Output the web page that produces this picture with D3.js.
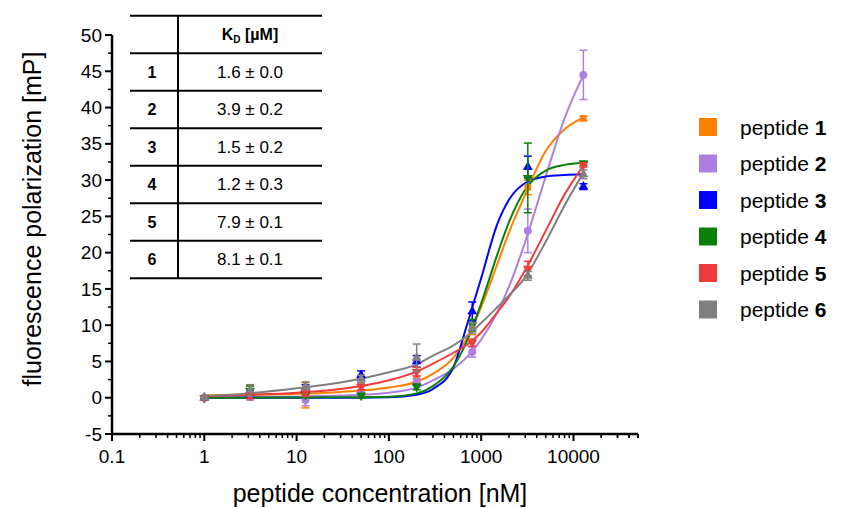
<!DOCTYPE html>
<html>
<head>
<meta charset="utf-8">
<script src="https://cdn.jsdelivr.net/npm/d3@7"></script>
<style>
  body { margin: 0; background: #fff; }
  svg { font-family: "Liberation Sans", Arial, sans-serif; }
</style>
</head>
<body>
<div id="chart"></div>
<script>
// concentrations of the measured points [nM]
const conc = [1, 3.125, 12.5, 50, 200, 800, 3200, 12800]

const names = ["1", "2", "3", "4", "5", "6"]
const colors = ["#ff7f00", "#ad7fe0", "#0000ff", "#0a800a", "#ef3b3b", "#808080"]
const shapes = ["square", "circle", "triangle", "triangleDown", "triangleDown", "triangle"]

// mean values [mP] per peptide
const means1 = [0.0, 0.7, 0.4, 0.7, 2.5, 9.5, 29.0, 38.5]
const means2 = [0.0, 0.1, -0.3, 0.8, 2.2, 6.3, 23.0, 44.5]
const means3 = [0.0, 0.5, 1.3, 3.1, 5.0, 11.9, 31.8, 29.1]
const means4 = [0.0, 1.0, 0.4, 0.3, 1.5, 10.0, 30.3, 32.3]
const means5 = [0.0, 0.3, 0.7, 1.5, 3.6, 7.6, 17.8, 32.1]
const means6 = [0.0, 1.0, 1.6, 2.6, 5.5, 9.6, 16.8, 30.8]

// standard deviations [mP]
const err1 = [0.2, 1.0, 1.8, 0.3, 0.5, 0.8, 1.0, 0.3]
const err2 = [0.2, 0.4, 0.8, 0.3, 0.4, 0.7, 3.0, 3.4]
const err3 = [0.2, 0.5, 0.5, 0.6, 0.8, 1.3, 1.5, 0.4]
const err4 = [0.2, 0.6, 0.4, 0.3, 0.4, 0.8, 4.8, 0.3]
const err5 = [0.2, 0.4, 0.5, 0.4, 0.6, 0.5, 1.0, 0.3]
const err6 = [0.2, 0.8, 0.5, 0.5, 1.9, 0.7, 0.6, 0.6]

// fitted curves
const fitConc = [1, 3, 10, 30, 100, 200, 300, 500, 700, 1000, 1500, 2000, 3000, 5000, 8000, 12800]
const fit1 = [0.35, 0.4, 0.5, 0.8, 1.4, 2.2, 3.3, 5.5, 8.2, 12.5, 18.5, 22.8, 28.0, 34.0, 37.0, 38.6]
const fit2 = [0.1, 0.1, 0.15, 0.3, 0.7, 1.4, 2.4, 4.0, 5.6, 8.0, 11.8, 15.3, 21.5, 30.5, 38.5, 44.5]
const fit3 = [0, 0, 0, 0, 0.05, 0.4, 1.2, 4.2, 10.0, 16.5, 24.0, 27.3, 29.6, 30.5, 30.7, 30.8]
const fit4 = [0, 0, 0.02, 0.05, 0.15, 0.6, 1.6, 4.3, 7.8, 13.0, 19.8, 24.2, 28.7, 31.3, 32.1, 32.4]
const fit5 = [0.2, 0.4, 0.7, 1.2, 2.4, 3.6, 4.7, 6.2, 7.3, 9.0, 11.8, 13.9, 17.6, 23.0, 28.0, 32.0]
const fit6 = [0.2, 0.6, 1.3, 2.1, 3.5, 4.6, 5.8, 7.2, 8.5, 10.3, 12.5, 14.1, 16.6, 21.5, 26.5, 31.0]

// K_D table
const kdRows = ["1", "2", "3", "4", "5", "6"]
const kdValues = ["1.6 ± 0.0", "3.9 ± 0.2", "1.5 ± 0.2", "1.2 ± 0.3", "7.9 ± 0.1", "8.1 ± 0.1"]

const xTickLabels = ["0.1", "1", "10", "100", "1000", "10000"]
const yTicks = [-5, 0, 5, 10, 15, 20, 25, 30, 35, 40, 45, 50]

const allMeans = [means1, means2, means3, means4, means5, means6]
const allErr = [err1, err2, err3, err4, err5, err6]
const allFits = [fit1, fit2, fit3, fit4, fit5, fit6]

const width = 841, height = 508
const svg = d3.select("#chart").append("svg")
	.attr("width", width)
	.attr("height", height)

const x = d3.scaleLog().domain([0.1, 50000]).range([112, 638])
const y = d3.scaleLinear().domain([-5, 50]).range([434, 35])

// curves first, points over them
const line = d3.line()
	.x(function(d) { return x(d[0]) })
	.y(function(d) { return y(d[1]) })
	.curve(d3.curveMonotoneX)

for (let s = 0; s < allFits.length; s++) {
	svg.append("path")
		.attr("d", line(fitConc.map(function(c, i) { return [c, allFits[s][i]] })))
		.attr("fill", "none")
		.attr("stroke", colors[s])
		.attr("stroke-width", 2)
}

function symbolFor(shape) {
	switch (shape) {
		case "square": return d3.symbol().type(d3.symbolSquare).size(42)
		case "circle": return d3.symbol().type(d3.symbolCircle).size(50)
		default: return d3.symbol().type(d3.symbolTriangle).size(42)
	}
}

for (let s = 0; s < allMeans.length; s++) {
	let g = svg.append("g")
	for (let i = 0; i < conc.length; i++) {
		let cx = x(conc[i])
		let top = y(allMeans[s][i] + allErr[s][i])
		let bot = y(allMeans[s][i] - allErr[s][i])
		g.append("line")
			.attr("x1", cx).attr("x2", cx)
			.attr("y1", top).attr("y2", bot)
			.attr("stroke", colors[s]).attr("stroke-width", 1.5)
		g.append("line")
			.attr("x1", cx - 4).attr("x2", cx + 4)
			.attr("y1", top).attr("y2", top)
			.attr("stroke", colors[s]).attr("stroke-width", 1.5)
		g.append("line")
			.attr("x1", cx - 4).attr("x2", cx + 4)
			.attr("y1", bot).attr("y2", bot)
			.attr("stroke", colors[s]).attr("stroke-width", 1.5)
		let rot = shapes[s] == "triangleDown" ? " rotate(180)" : ""
		g.append("path")
			.attr("d", symbolFor(shapes[s])())
			.attr("transform", "translate(" + cx + "," + y(allMeans[s][i]) + ")" + rot)
			.attr("fill", colors[s])
	}
}

// x axis
const xAxis = svg.append("g").attr("transform", "translate(0," + y(-5) + ")")
xAxis.append("line")
	.attr("x1", x(0.1) - 1).attr("x2", x(50000))
	.attr("stroke", "#000").attr("stroke-width", 2.5)
for (let k = -1; k <= 4; k++) {
	for (let m = 1; m <= 9; m++) {
		let v = m * Math.pow(10, k)
		if (v > 50000) continue
		xAxis.append("line")
			.attr("x1", x(v)).attr("x2", x(v))
			.attr("y1", 0).attr("y2", m == 1 ? 7 : 4)
			.attr("stroke", "#000").attr("stroke-width", m == 1 ? 2 : 1.5)
	}
}
xTickLabels.forEach(function(t) {
	xAxis.append("text")
		.attr("x", x(+t)).attr("y", 29)
		.attr("text-anchor", "middle")
		.style("font-size", "19px")
		.text(t)
})
for (let m = 2; m <= 5; m++) {
	xAxis.append("line")
		.attr("x1", x(m * 10000)).attr("x2", x(m * 10000))
		.attr("y1", 0).attr("y2", 4)
		.attr("stroke", "#000").attr("stroke-width", 1.5)
}

// y axis
const yAxis = svg.append("g").attr("transform", "translate(" + x(0.1) + ",0)")
yAxis.append("line")
	.attr("y1", y(-5) + 1).attr("y2", y(50))
	.attr("stroke", "#000").attr("stroke-width", 2.5)
yTicks.forEach(function(t) {
	yAxis.append("line")
		.attr("x1", -7).attr("x2", 0)
		.attr("y1", y(t)).attr("y2", y(t))
		.attr("stroke", "#000").attr("stroke-width", 2)
	yAxis.append("text")
		.attr("x", -10).attr("y", y(t))
		.attr("dy", "0.35em")
		.attr("text-anchor", "end")
		.style("font-size", "19px")
		.text(t)
	if (t < 50) {
		yAxis.append("line")
			.attr("x1", -4).attr("x2", 0)
			.attr("y1", y(t + 2.5)).attr("y2", y(t + 2.5))
			.attr("stroke", "#000").attr("stroke-width", 1.5)
	}
})

svg.append("text")
	.attr("transform", "translate(41,219) rotate(-90)")
	.attr("text-anchor", "middle")
	.style("font-size", "25px")
	.text("fluorescence polarization [mP]")

svg.append("text")
	.attr("x", 380).attr("y", 502)
	.attr("text-anchor", "middle")
	.style("font-size", "25px")
	.text("peptide concentration [nM]")

// K_D table
const tbl = svg.append("g")
const rowH = 37.5, tblTop = 15.7, tblL = 130, tblR = 322, tblMid = 178
for (let r = 0; r <= kdRows.length + 1; r++) {
	tbl.append("line")
		.attr("x1", tblL).attr("x2", tblR)
		.attr("y1", tblTop + r * rowH).attr("y2", tblTop + r * rowH)
		.attr("stroke", "#000").attr("stroke-width", 2)
}
tbl.append("line")
	.attr("x1", tblMid).attr("x2", tblMid)
	.attr("y1", tblTop).attr("y2", tblTop + (kdRows.length + 1) * rowH)
	.attr("stroke", "#000").attr("stroke-width", 2)
let head = tbl.append("text")
	.attr("x", 250).attr("y", tblTop + rowH / 2 + 6)
	.attr("text-anchor", "middle")
	.style("font-size", "16px").style("font-weight", "bold")
head.append("tspan").text("K")
head.append("tspan").attr("dy", 3).style("font-size", "10px").text("D")
head.append("tspan").attr("dy", -3).text(" [µM]")
for (let r = 0; r < kdRows.length; r++) {
	let cy = tblTop + (r + 1.5) * rowH + 6
	tbl.append("text")
		.attr("x", 152).attr("y", cy)
		.attr("text-anchor", "middle")
		.style("font-size", "16px").style("font-weight", "bold")
		.text(kdRows[r])
	tbl.append("text")
		.attr("x", 250).attr("y", cy)
		.attr("text-anchor", "middle")
		.style("font-size", "17px")
		.text(kdValues[r])
}

// legend
const legend = svg.append("g")
for (let s = 0; s < names.length; s++) {
	let ly = 127 + s * 36.5
	legend.append("rect")
		.attr("x", 699).attr("y", ly - 9)
		.attr("width", 18).attr("height", 18)
		.attr("fill", colors[s])
	let t = legend.append("text")
		.attr("x", 740).attr("y", ly + 7.5)
		.style("font-size", "21px")
	t.append("tspan").text("peptide ")
	t.append("tspan").style("font-weight", "bold").text(names[s])
}
</script>
</body>
</html>
